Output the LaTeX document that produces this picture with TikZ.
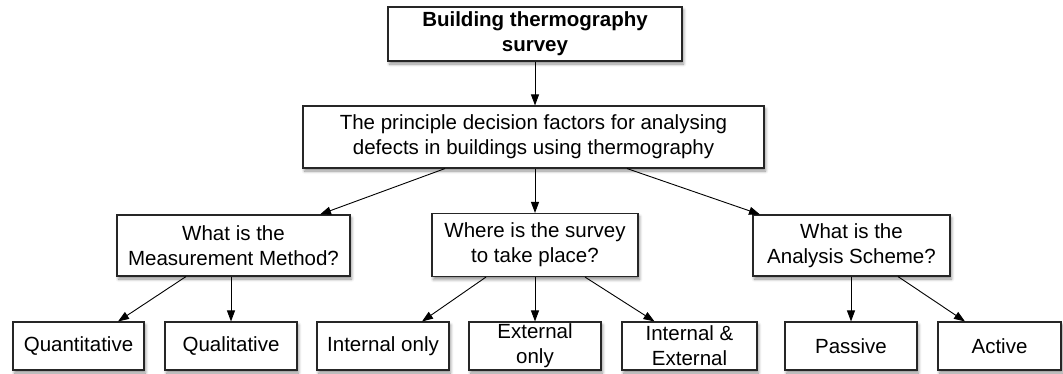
\documentclass[tikz,border=0pt]{standalone}
\usepackage{fontspec}
\setmainfont{Liberation Sans}
\usetikzlibrary{arrows.meta,shadows.blur}
\tikzset{
  box/.style={draw=black!85, line width=1.1pt, fill=white, align=center, inner sep=0pt,
    font=\fontsize{20.5}{25}\selectfont,
    blur shadow={shadow xshift=1.5pt, shadow yshift=-3pt, shadow blur steps=6, shadow blur radius=3pt, shadow opacity=45}},
  conn/.style={draw=black, line width=0.9pt, -{Triangle[length=11pt,width=8pt]}}
}
\begin{document}
\begin{tikzpicture}[x=1pt,y=-1pt]
\useasboundingbox (0,0) rectangle (1063,373);
\node[box, minimum width=294pt, minimum height=54pt] (top) at (535,34) {\textbf{Building thermography}\\\textbf{survey}};
\node[box, minimum width=461pt, minimum height=62pt] (main) at (533.5,137) {The principle decision factors for analysing\\defects in buildings using thermography};
\node[box, minimum width=233pt, minimum height=61pt] (meas) at (233.5,245.5) {What is the\\Measurement Method?};
\node[box, minimum width=206pt, minimum height=63pt] (where) at (535,245) {Where is the survey\\to take place?};
\node[box, minimum width=197pt, minimum height=61pt] (anal) at (851.5,245.5) {What is the\\Analysis Scheme?};
\node[box, minimum width=131pt, minimum height=48pt] (quant) at (78.5,346) {Quantitative};
\node[box, minimum width=132pt, minimum height=48pt] (qual) at (231,346) {Qualitative};
\node[box, minimum width=132pt, minimum height=48pt] (intonly) at (383,346) {Internal only};
\node[box, minimum width=132pt, minimum height=48pt] (extonly) at (535,346) {External\\only};
\node[box, minimum width=135pt, minimum height=48pt] (intext) at (689.5,346) {Internal \&\\External};
\node[box, minimum width=132pt, minimum height=48pt] (passive) at (851,346) {Passive};
\node[box, minimum width=123pt, minimum height=48pt] (active) at (999.5,346) {Active};
\draw[conn] (top.south) -- (top.south |- main.north);
\draw[conn] ([xshift=-88.5pt]main.south) -- ([xshift=86.5pt]meas.north);
\draw[conn] (where.north |- main.south) -- (where.north);
\draw[conn] ([xshift=93.5pt]main.south) -- ([xshift=-91.5pt]anal.north);
\draw[conn] ([xshift=-47.5pt]meas.south) -- ([xshift=39.5pt]quant.north);
\draw[conn] (qual.north |- meas.south) -- (qual.north);
\draw[conn] ([xshift=-49pt]where.south) -- ([xshift=39pt]intonly.north);
\draw[conn] (where.south) -- (extonly.north);
\draw[conn] ([xshift=50pt]where.south) -- ([xshift=-35pt]intext.north);
\draw[conn] (passive.north |- anal.south) -- (passive.north);
\draw[conn] ([xshift=46.5pt]anal.south) -- ([xshift=-34.5pt]active.north);
\end{tikzpicture}
\end{document}
